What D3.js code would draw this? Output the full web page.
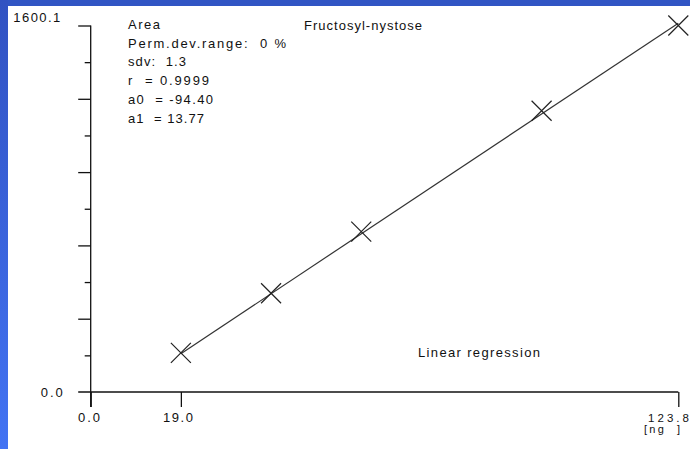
<!DOCTYPE html>
<html><head><meta charset="utf-8">
<script src="https://cdn.jsdelivr.net/npm/d3@7/dist/d3.min.js"></script>
<style>html,body{margin:0;padding:0;background:#fff;overflow:hidden} text{white-space:pre}</style>
</head><body>
<script>
// ---- data ----
const xValues = [19.0, 38.0, 57.0, 95.0, 123.8];
const yValues = [171, 431, 700, 1228, 1600.1];
const xDomain = [0.0, 123.8];
const yDomain = [0.0, 1600.1];
const xTickLabels = ["0.0", "19.0", "123.8"];
const xTickValues = [0.0, 19.0, 123.8];
const yTickLabels = ["0.0", "1600.1"];
const regA0 = -94.40;
const regA1 = 13.77;
const statLines = ["Area", "Perm.dev.range:  0 %", "sdv:  1.3", "r  = 0.9999", "a0  = -94.40", "a1  = 13.77"];
const title = "Fructosyl-nystose";
const methodLabel = "Linear regression";
const unitLabel = "[ng  ]";

const W = 690, H = 449;
const svg = d3.select("body").append("svg").attr("width", W).attr("height", H)
  .style("display","block");

const defs = svg.append("defs");
const g1 = defs.append("linearGradient").attr("id","lg").attr("x1",0).attr("y1",0).attr("x2",0).attr("y2",1);
g1.append("stop").attr("offset","0%").attr("stop-color","#3152c2");
g1.append("stop").attr("offset","100%").attr("stop-color","#4273f3");

svg.append("rect").attr("x",0).attr("y",0).attr("width",W).attr("height",H).attr("fill","#fff");
svg.append("rect").attr("x",0).attr("y",0).attr("width",W).attr("height",6).attr("fill","#3155c4");
svg.append("rect").attr("x",0).attr("y",0).attr("width",8).attr("height",H).attr("fill","url(#lg)");

const x = d3.scaleLinear().domain(xDomain).range([90.7, 678.3]);
const y = d3.scaleLinear().domain(yDomain).range([392, 25.5]);

const ink = "#111";
const font = "Arial, 'Liberation Sans', sans-serif";

// y axis ticks (major / minor)
const yTicksAll = d3.range(1, 11).map(i => yDomain[1] * i / 10);
const major = yTicksAll.filter((d,i) => i % 2 === 1);
const minor = yTicksAll.filter((d,i) => i % 2 === 0);
const axMaj = svg.append("g").attr("transform",`translate(${x(0)},0)`)
  .call(d3.axisLeft(y).tickValues(major).tickSize(12.5).tickFormat(""));
const axMin = svg.append("g").attr("transform",`translate(${x(0)},0)`)
  .call(d3.axisLeft(y).tickValues(minor).tickSize(6).tickFormat(""));
[axMaj, axMin].forEach(a => { a.select(".domain").remove(); a.selectAll("line").attr("stroke", ink).attr("stroke-width",1.3); });

// x axis ticks
const axX = svg.append("g").attr("transform",`translate(0,${y(0)})`)
  .call(d3.axisBottom(x).tickValues(xTickValues).tickSize(15).tickFormat(""));
axX.select(".domain").remove();
axX.selectAll("line").attr("stroke", ink).attr("stroke-width",1.3);

// axis lines
svg.append("line").attr("x1",x(0)).attr("x2",x(0)).attr("y1",y(yDomain[1])).attr("y2",y(0)+15)
  .attr("stroke",ink).attr("stroke-width",1.3);
svg.append("line").attr("x1",x(0)-12.5).attr("x2",x(xDomain[1])).attr("y1",y(0)).attr("y2",y(0))
  .attr("stroke",ink).attr("stroke-width",1.3);

// regression line
const xr = d3.extent(xValues);
svg.append("line")
  .attr("x1", x(xr[0])).attr("y1", y(regA0 + regA1*xr[0]))
  .attr("x2", x(xr[1])).attr("y2", y(regA0 + regA1*xr[1]))
  .attr("stroke","#333").attr("stroke-width",1.2);

// crosses
const pts = xValues.map((v,i)=>[v,yValues[i]]);
const s = 10;
svg.append("g").selectAll("path").data(pts).join("path")
  .attr("d", d => { const cx=x(d[0]), cy=y(d[1]);
    return `M${cx-s},${cy-s}L${cx+s},${cy+s}M${cx-s},${cy+s}L${cx+s},${cy-s}`; })
  .attr("stroke","#222").attr("stroke-width",1.2).attr("fill","none");

function txt(t, px, py, len, size) {
  const e = svg.append("text").attr("x",px).attr("y",py).text(t)
    .attr("font-family",font).attr("font-size",size || 13).attr("fill",ink)
    .attr("xml:space","preserve");
  if (len) e.attr("textLength",len).attr("lengthAdjust","spacing");
  return e;
}

// y labels
txt(yTickLabels[1], 13.3, 22, 47);
txt(yTickLabels[0], 40.7, y(0)+5, 22);
// x labels
txt(xTickLabels[0], x(0)-12.7, 421.5, 22);
txt(xTickLabels[1], x(19)-18, 421.5, 30);
txt(xTickLabels[2], 648, 421.5, 41, 11.5);
txt(unitLabel, 644, 432.5, 36, 11);

// stats block
const statLens = [32, 158, 58, 81, 85, 76];
statLines.forEach((t,i) => txt(t, 128, 29 + i*18.7, statLens[i]));
txt(title, 304, 30, 118);
txt(methodLabel, 418, 357, 122);
</script>
</body></html>
